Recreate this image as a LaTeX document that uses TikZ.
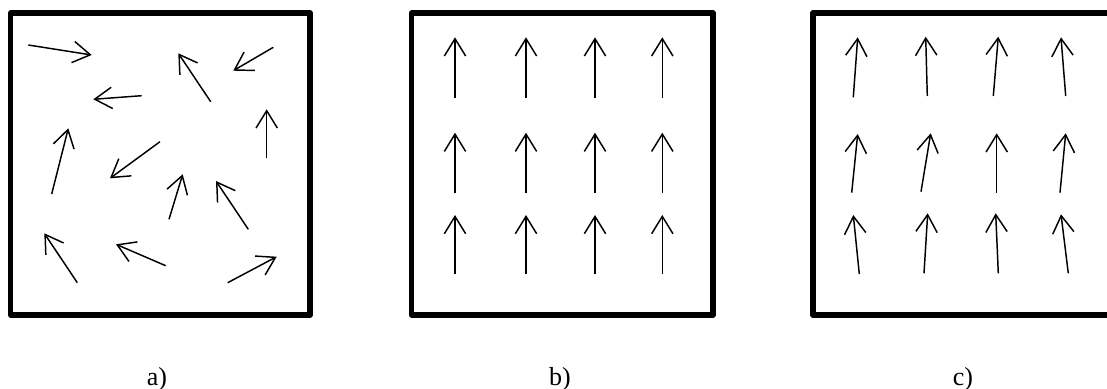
\documentclass[tikz,border=0pt]{standalone}
\usepackage{fontspec}
\setmainfont{Liberation Serif}
\usetikzlibrary{arrows.meta}
\begin{document}
\begin{tikzpicture}[x=0.75pt,y=-0.75pt,
  frame/.style={line width=3.9pt,line join=round},
  vec/.style={line width=1.1pt,-{Straight Barb[length=13pt,width=16pt]}},
  lab/.style={font=\fontsize{19.5pt}{22pt}\selectfont,anchor=base,inner sep=0pt}]
\useasboundingbox (0,0) rectangle (1107,389);
% frames
\draw[frame] (10.5,13) rectangle (310,315);
\draw[frame] (411.5,13) rectangle (713,315);
\draw[frame] (813,13) rectangle (1116,315);
% a) random
\draw[vec] (28.3,45) -- (91.7,55);
\draw[vec] (141.7,95.7) -- (93.3,99.3);
\draw[vec] (210.7,101.7) -- (178.3,53.3);
\draw[vec] (273.3,47.3) -- (233.3,70.7);
\draw[vec] (266.7,158.3) -- (266.7,109.3);
\draw[vec] (51.7,194) -- (68.3,128.3);
\draw[vec] (160,141.7) -- (110,178.3);
\draw[vec] (169,219.3) -- (182.7,174.3);
\draw[vec] (248.3,229.3) -- (216,181);
\draw[vec] (77.3,282.7) -- (44.3,233.3);
\draw[vec] (165.7,265.7) -- (116,244.3);
\draw[vec] (227.7,282.7) -- (276.7,256.7);
% b) aligned
\foreach \x in {455,526,595,662.3}{
  \draw[vec] (\x,98.3) -- (\x,37.3);
  \draw[vec] (\x,192.7) -- (\x,132.7);
  \draw[vec] (\x,274.3) -- (\x,215);
}
% c) nearly aligned
\draw[vec] (853.3,97.3) -- (857.7,37.3);
\draw[vec] (927.3,96) -- (925.7,36.7);
\draw[vec] (993.3,96) -- (998.3,36.7);
\draw[vec] (1065.7,96) -- (1061,37.3);
\draw[vec] (851.7,192.7) -- (857.7,134);
\draw[vec] (921,191.7) -- (930.7,133.3);
\draw[vec] (996.7,192.7) -- (996.7,133.3);
\draw[vec] (1060,192.7) -- (1065.7,133.3);
\draw[vec] (859.3,274) -- (853.3,215);
\draw[vec] (924,273.3) -- (927.7,213.3);
\draw[vec] (998.3,273.3) -- (995.7,213.3);
\draw[vec] (1068.3,273.3) -- (1061,214.3);
% labels
\node[lab] (la) at (157,385) {a)};
\node[lab] (lb) at (560,385) {b)};
\node[lab] (lc) at (963,385) {c)};
\end{tikzpicture}
\end{document}
